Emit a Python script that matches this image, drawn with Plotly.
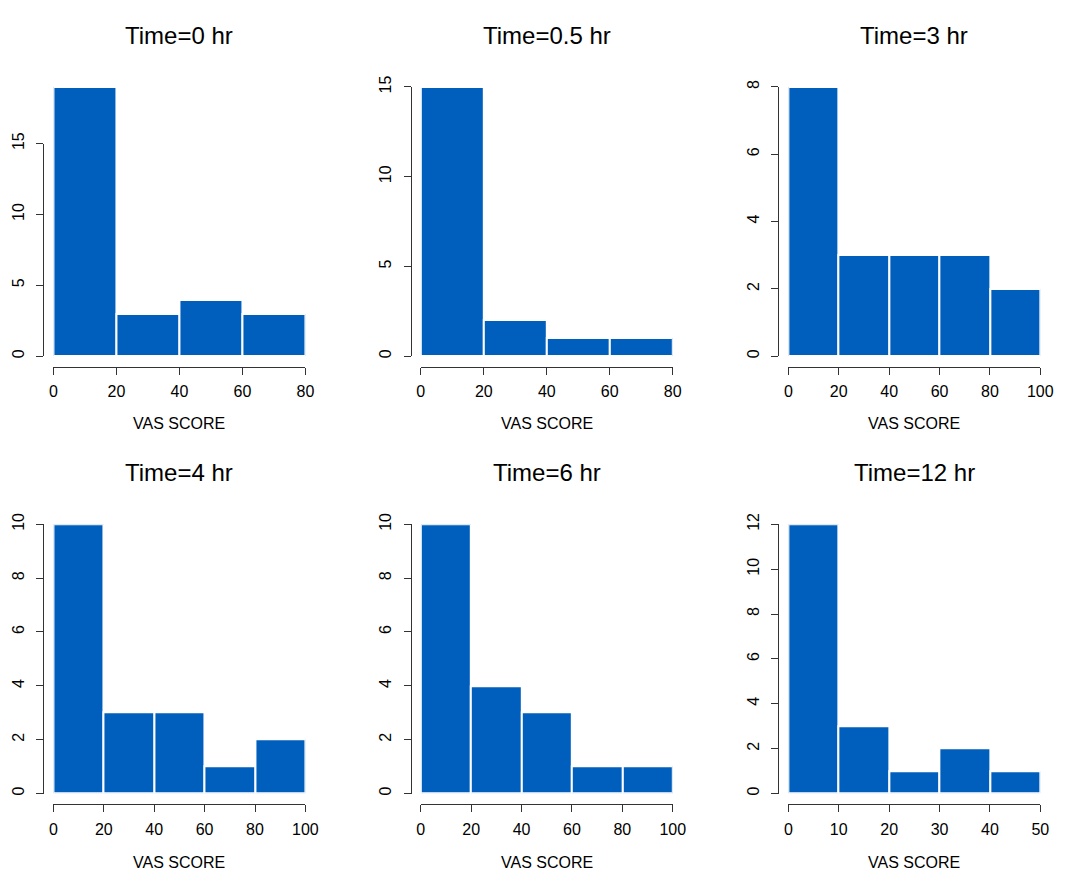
import plotly.graph_objects as go

# ---------------- data ----------------
panel_titles = ["Time=0 hr", "Time=0.5 hr", "Time=3 hr", "Time=4 hr", "Time=6 hr", "Time=12 hr"]

bin_edges_t0 = [0, 20, 40, 60, 80]
counts_t0 = [19, 3, 4, 3]
yticks_t0 = [0, 5, 10, 15]

bin_edges_t05 = [0, 20, 40, 60, 80]
counts_t05 = [15, 2, 1, 1]
yticks_t05 = [0, 5, 10, 15]

bin_edges_t3 = [0, 20, 40, 60, 80, 100]
counts_t3 = [8, 3, 3, 3, 2]
yticks_t3 = [0, 2, 4, 6, 8]

bin_edges_t4 = [0, 20, 40, 60, 80, 100]
counts_t4 = [10, 3, 3, 1, 2]
yticks_t4 = [0, 2, 4, 6, 8, 10]

bin_edges_t6 = [0, 20, 40, 60, 80, 100]
counts_t6 = [10, 4, 3, 1, 1]
yticks_t6 = [0, 2, 4, 6, 8, 10]

bin_edges_t12 = [0, 10, 20, 30, 40, 50]
counts_t12 = [12, 3, 1, 2, 1]
yticks_t12 = [0, 2, 4, 6, 8, 10, 12]

x_label = "VAS SCORE"

panels = [
    (bin_edges_t0, counts_t0, yticks_t0),
    (bin_edges_t05, counts_t05, yticks_t05),
    (bin_edges_t3, counts_t3, yticks_t3),
    (bin_edges_t4, counts_t4, yticks_t4),
    (bin_edges_t6, counts_t6, yticks_t6),
    (bin_edges_t12, counts_t12, yticks_t12),
]

# ---------------- layout geometry (pixels) ----------------
W, H = 1069, 874
col_left = [40.0, 413.3, 786.8]
row_top = [66.1, 510.1]
pw, ph = 276.5, 295.2
pad_x = pw * 0.04 / 1.08
pad_y = ph * 0.04 / 1.08

BLUE = "#005EBD"
AXIS_COLOR = "#333333"
FONT = "Liberation Sans, Arial, Helvetica, sans-serif"
TICKSZ = 16

fig = go.Figure()
layout = dict(
    width=W, height=H,
    margin=dict(l=0, r=0, t=0, b=0),
    paper_bgcolor="white",
    plot_bgcolor="rgba(0,0,0,0)",
    font=dict(family=FONT, color="black", size=TICKSZ),
    showlegend=False,
    bargap=0,
)
annotations = []

axis_common = dict(
    showgrid=False, zeroline=False, showline=True, linecolor=AXIS_COLOR, linewidth=1,
    ticks="outside", ticklen=7, tickwidth=1, tickcolor=AXIS_COLOR,
    tickfont=dict(size=TICKSZ, color="black", family=FONT), fixedrange=True,
)

for i, (edges, counts, yticks) in enumerate(panels):
    r, c = divmod(i, 3)
    L = col_left[c]
    T = row_top[r]
    xmax = edges[-1]
    ymax = max(counts)
    x0 = (L + pad_x) / W
    x1 = (L + pw - pad_x) / W
    ybot_px = T + ph - pad_y
    ytop_px = T + pad_y
    ylast_px = ybot_px - (yticks[-1] / ymax) * (ybot_px - ytop_px)

    xi = i + 1
    yi = i + 1
    yd = i + 7
    xname = "xaxis" if xi == 1 else f"xaxis{xi}"
    yname = "yaxis" if yi == 1 else f"yaxis{yi}"
    xref = "x" if xi == 1 else f"x{xi}"
    yref = "y" if yi == 1 else f"y{yi}"

    layout[xname] = dict(
        axis_common, domain=[x0, x1], range=[0, xmax], anchor="free",
        position=1 - (T + ph) / H, tickmode="array", tickvals=edges,
        ticktext=[str(v) for v in edges], ticklabelstandoff=3,
    )
    layout[yname] = dict(
        domain=[1 - ybot_px / H, 1 - ytop_px / H], range=[0, ymax],
        visible=False, anchor=xref, fixedrange=True,
    )
    layout[f"yaxis{yd}"] = dict(
        axis_common, domain=[1 - ybot_px / H, 1 - ylast_px / H], range=[0, yticks[-1]],
        anchor="free", position=L / W, tickmode="array", tickvals=yticks,
        ticktext=[str(v) for v in yticks], tickangle=-90, ticklabelstandoff=6,
    )

    widths = [edges[k + 1] - edges[k] for k in range(len(counts))]
    fig.add_trace(go.Bar(
        x=edges[:-1], y=counts, width=widths, offset=0,
        marker=dict(color=BLUE, line=dict(color="white", width=2)),
        xaxis=xref, yaxis=yref, hoverinfo="x+y",
    ))
    fig.add_trace(go.Scatter(x=[], y=[], xaxis=xref, yaxis=f"y{yd}", hoverinfo="skip"))

    cx = (L + pw / 2) / W
    title_y = [24.5, 468.0][r]
    xlab_y = [419.0, 864.0][r]
    annotations.append(dict(
        text=panel_titles[i], x=cx, y=1 - title_y / H, xref="paper", yref="paper",
        xanchor="center", yanchor="middle", showarrow=False,
        font=dict(size=24, family=FONT, color="black"),
    ))
    annotations.append(dict(
        text=x_label, x=cx, y=1 - xlab_y / H, xref="paper", yref="paper",
        xanchor="center", yanchor="middle", showarrow=False,
        font=dict(size=TICKSZ, family=FONT, color="black"),
    ))

layout["annotations"] = annotations
fig.update_layout(**layout)
fig.write_html(
    "out.html", config={"displayModeBar": False},
    post_script="document.body.style.margin='0';document.body.style.overflow='hidden';",
)
